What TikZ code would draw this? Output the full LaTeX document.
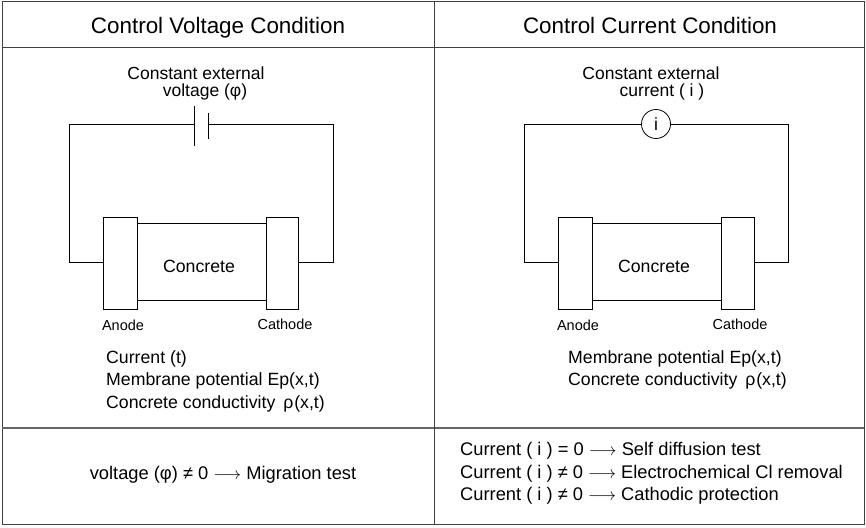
\documentclass[tikz,border=0pt]{standalone}
\usepackage{fontspec}
\setmainfont{Liberation Sans}
\begin{document}
\begin{tikzpicture}[x=1pt,y=-1pt,
  wire/.style={line width=0.8pt},
  electrode/.style={draw,line width=0.8pt,minimum width=34pt,minimum height=92pt,inner sep=0pt},
  body/.style={draw,line width=0.8pt,minimum width=129pt,minimum height=77pt,inner sep=0pt},
  head/.style={font=\fontsize{22.4}{26}\selectfont,anchor=base,inner sep=0pt},
  txt/.style={font=\fontsize{17.7}{21}\selectfont,inner sep=0pt,anchor=base},
  src2/.style={font=\fontsize{17.5}{17}\selectfont,inner sep=0pt,anchor=north,align=center},
  lbl/.style={font=\fontsize{14.5}{17}\selectfont,inner sep=0pt,anchor=base},
  btxt/.style={font=\fontsize{18.3}{22}\selectfont,inner sep=0pt,anchor=base},
  grid/.style={draw=black!75,line width=1pt}
]
\useasboundingbox (0,0) rectangle (866,527);
% table
\draw[grid] (2,2) rectangle (864,524);
\draw[grid] (2,48) -- (864,48);
\draw[draw=black!60,line width=1.8pt] (2,428) -- (864,428);
\draw[grid] (434,2) -- (434,524);
% headers
\node[head] (h1) at (218,34) {Control Voltage Condition};
\node[head] (h2) at (650,34) {Control Current Condition};

% ---------- left circuit
\node[src2] (cl) at (196,66.5) {Constant external\\\hspace*{18pt}voltage (φ)};
\node[electrode] (anL) at (120,263) {};
\node[body] (coL) at (201.5,261.5) {};
\node[txt] (coLt) at (199,272) {Concrete};
\node[electrode,minimum width=32pt] (caL) at (282,263) {};
\coordinate (bL1) at (194,124);
\coordinate (bL2) at (208,124);
\coordinate (cLa) at (69,262);
\coordinate (cLb) at (69,124);
\coordinate (cLc) at (333,124);
\coordinate (cLd) at (333,262);
\draw[wire] (anL.west |- cLa) -- (cLa) -- (cLb) -- (bL1);
\draw[wire] (bL2) -- (cLc) -- (cLd) -- (caL.east |- cLd);
\draw[wire] (194,106) -- (194,146);
\draw[wire] (208,113) -- (208,139);
\node[lbl] (aLl) at (123,330) {Anode};
\node[lbl] (kLl) at (285,329.5) {Cathode};
\node[txt,anchor=base west] (tL1) at (106,363) {Current (t)};
\node[txt,anchor=base west] (tL2) at (106,385) {Membrane potential Ep(x,t)};
\node[txt,anchor=base west] (tL3) at (106,408) {Concrete conductivity \,ρ\kern1pt(x,t)};

% ---------- right circuit
\node[src2] (cr) at (651,66.5) {Constant external\\\hspace*{22pt}current ( i )};
\node[electrode] (anR) at (575,263) {};
\node[body] (coR) at (656.5,261.5) {};
\node[txt] (coRt) at (654,272) {Concrete};
\node[electrode,minimum width=33pt] (caR) at (737.5,263) {};
\node[draw,circle,line width=0.8pt,minimum size=29pt,inner sep=0pt,font=\fontsize{17.7}{21}\selectfont] (src) at (656,124) {i};
\coordinate (cRa) at (524,262);
\coordinate (cRb) at (524,124);
\coordinate (cRc) at (788,124);
\coordinate (cRd) at (788,262);
\draw[wire] (anR.west |- cRa) -- (cRa) -- (cRb) -- (src.west);
\draw[wire] (src.east) -- (cRc) -- (cRd) -- (caR.east |- cRd);
\node[lbl] (aRl) at (578,330) {Anode};
\node[lbl] (kRl) at (740,329.5) {Cathode};
\node[txt,anchor=base west] (tR1) at (568,363) {Membrane potential Ep(x,t)};
\node[txt,anchor=base west] (tR2) at (568,385) {Concrete conductivity \,ρ\kern1pt(x,t)};

% ---------- bottom
\node[btxt] (bl) at (223,479) {voltage (φ) ≠ 0 $\longrightarrow$ Migration test};
\node[btxt,anchor=base west] (br1) at (460,455) {Current ( i ) = 0 $\longrightarrow$ Self diffusion test};
\node[btxt,anchor=base west] (br2) at (460,478) {Current ( i ) ≠ 0 $\longrightarrow$ Electrochemical Cl removal};
\node[btxt,anchor=base west] (br3) at (460,500) {Current ( i ) ≠ 0 $\longrightarrow$ Cathodic protection};
\end{tikzpicture}
\end{document}
